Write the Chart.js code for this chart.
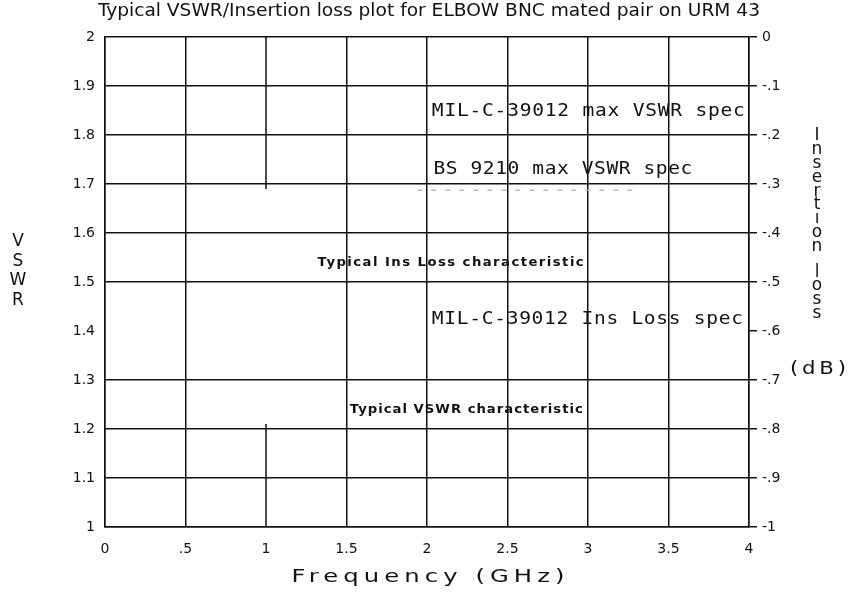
<!DOCTYPE html>
<html>
<head>
    <title>Typical VSWR/Insertion loss plot for ELBOW BNC mated pair on URM 43</title>
    <style>
        body { margin: 0; background: #fff; }
        #chartContainer { width: 864px; height: 596px; position: relative; }
    </style>
    <script src="https://cdn.jsdelivr.net/npm/chart.js"></script>
</head>
<body>

    <div id="chartContainer">
        <canvas id="plot"></canvas>
    </div>

    <script>
        // tick labels as printed on the plotter output
        const freqTickLabels = ['0', '.5', '1', '1.5', '2', '2.5', '3', '3.5', '4'];
        const vswrTickLabels = ['1', '1.1', '1.2', '1.3', '1.4', '1.5', '1.6', '1.7', '1.8', '1.9', '2'];
        const lossTickLabels = ['-1', '-.9', '-.8', '-.7', '-.6', '-.5', '-.4', '-.3', '-.2', '-.1', '0'];

        // faint dashed trace just under the BS 9210 line
        const faintFreq = [1.94, 3.32];
        const faintVswr = [1.687, 1.687];

        // the 1 GHz rule is broken where the labels sit
        const ruleFreq = [1, 1];
        const ruleUpper = [2, 1.69];
        const ruleLower = [1.21, 1];

        // rules with no line drawn on the original
        const missingVswr = [1.4];
        const missingFreq = [1];

        // annotation text: left freq, centre vswr
        const labelText = ['MIL-C-39012 max VSWR spec', 'BS 9210 max VSWR spec', 'Typical Ins Loss characteristic', 'MIL-C-39012 Ins Loss spec', 'Typical VSWR characteristic'];
        const labelFreq = [2.03, 2.04, 1.32, 2.03, 1.52];
        const labelVswr = [1.847, 1.729, 1.539, 1.424, 1.239];

        const ink = '#111';
        const pts = (xs, ys) => xs.map((x, i) => ({ x: x, y: ys[i] }));

        // plotter-style text: widened by sx, then spaced out to cover `width`
        // (sx = 0 means just squeeze/stretch to width with no extra spacing)
        function drawText(ctx, text, x, y, width, font, sx, align) {
            ctx.save();
            ctx.font = font;
            ctx.textBaseline = 'middle';
            ctx.textAlign = 'left';
            ctx.letterSpacing = '0px';
            const w = ctx.measureText(text).width;
            let gap = 0;
            if (!sx) {
                sx = width / w;
            } else if (text.length > 1) {
                gap = Math.max(0, (width / sx - w) / (text.length - 1));
            }
            ctx.letterSpacing = gap.toFixed(2) + 'px';
            const left = align === 'center' ? x - width / 2 : x;
            ctx.translate(left, y);
            ctx.scale(sx, 1);
            ctx.fillStyle = ink;
            ctx.fillText(text, 0, 0);
            ctx.restore();
        }

        const labelWidths = [313, 259, 266, 311, 233];
        const monoFont = '17px "DejaVu Sans Mono", "Liberation Mono", monospace';
        const boldFont = 'bold 12px "DejaVu Sans"';
        const labelFonts = [monoFont, monoFont, boldFont, monoFont, boldFont];
        const labelStretch = [1.15, 1.15, 1.1, 1.15, 1.1];

        const textPlugin = {
            id: 'plotText',
            afterDraw(chart) {
                const ctx = chart.ctx;
                const xs = chart.scales.x, ys = chart.scales.y;
                labelText.forEach((t, i) => {
                    drawText(ctx, t, xs.getPixelForValue(labelFreq[i]), ys.getPixelForValue(labelVswr[i]),
                        labelWidths[i], labelFonts[i], labelStretch[i], 'left');
                });

                drawText(ctx, 'Typical VSWR/Insertion loss plot for ELBOW BNC mated pair on URM 43',
                    429, 12, 662, '17px "DejaVu Sans Condensed", "Liberation Sans Narrow", sans-serif', 0, 'center');
                drawText(ctx, 'Frequency (GHz)', 428, 577, 273, '18px "DejaVu Sans"', 1.35, 'center');

                ctx.save();
                ctx.fillStyle = ink;
                ctx.textAlign = 'center';
                ctx.textBaseline = 'middle';
                ctx.font = '17px "DejaVu Sans"';
                ['V', 'S', 'W', 'R'].forEach((c, i) => ctx.fillText(c, 18, 242 + i * 19.5));
                const side = 'Insertion loss';
                let yy = 136;
                for (const c of side) {
                    if (c === ' ') { yy += 12; continue; }
                    ctx.fillText(c === 'i' ? 'ı' : c, 817, yy);
                    yy += 13.8;
                }
                ctx.restore();
                drawText(ctx, '(dB)', 818, 370, 56, '17px "DejaVu Sans"', 1.25, 'center');
            }
        };

        const tickFont = { family: '"DejaVu Sans"', size: 14 };

        new Chart(document.getElementById('plot'), {
            type: 'scatter',
            data: {
                datasets: [
                    {
                        data: pts(faintFreq, faintVswr),
                        showLine: true,
                        borderColor: '#b8b8b8',
                        borderWidth: 1.5,
                        borderDash: [5, 9],
                        pointRadius: 0
                    },
                    {
                        data: pts(ruleFreq, ruleUpper),
                        showLine: true,
                        borderColor: ink,
                        borderWidth: 1.5,
                        pointRadius: 0
                    },
                    {
                        data: pts(ruleFreq, ruleLower),
                        showLine: true,
                        borderColor: ink,
                        borderWidth: 1.5,
                        pointRadius: 0
                    }
                ]
            },
            options: {
                responsive: true,
                maintainAspectRatio: false,
                animation: false,
                layout: { padding: { top: 37, left: 0, right: 0, bottom: 0 } },
                plugins: {
                    legend: { display: false },
                    title: { display: false },
                    tooltip: { enabled: false }
                },
                scales: {
                    x: {
                        type: 'linear',
                        min: 0,
                        max: 4,
                        ticks: {
                            stepSize: 0.5,
                            color: ink,
                            font: tickFont,
                            padding: 14,
                            maxRotation: 0,
                            callback: (v, i) => freqTickLabels[i]
                        },
                        grid: {
                            drawTicks: false,
                            lineWidth: 1.5,
                            color: ctx => (ctx.tick && missingFreq.includes(ctx.tick.value)) ? 'rgba(0,0,0,0)' : ink
                        },
                        border: { color: ink, width: 1.5 },
                        afterFit: s => { s.height = 69; }
                    },
                    y: {
                        type: 'linear',
                        position: 'left',
                        min: 1,
                        max: 2,
                        ticks: {
                            stepSize: 0.1,
                            color: ink,
                            font: tickFont,
                            padding: 10,
                            callback: (v, i) => vswrTickLabels[i]
                        },
                        grid: {
                            drawTicks: false,
                            lineWidth: 1.5,
                            color: ctx => (ctx.tick && missingVswr.some(m => Math.abs(m - ctx.tick.value) < 1e-6)) ? 'rgba(0,0,0,0)' : ink
                        },
                        border: { color: ink, width: 1.5 },
                        afterFit: s => { s.width = 105; }
                    },
                    y2: {
                        type: 'linear',
                        position: 'right',
                        min: -1,
                        max: 0,
                        ticks: {
                            stepSize: 0.1,
                            color: ink,
                            font: tickFont,
                            padding: 5,
                            callback: (v, i) => lossTickLabels[i]
                        },
                        grid: {
                            drawOnChartArea: false,
                            drawTicks: true,
                            tickLength: 8,
                            lineWidth: 1.5,
                            color: ink
                        },
                        border: { color: ink, width: 1.5 },
                        afterFit: s => { s.width = 115; }
                    }
                }
            },
            plugins: [textPlugin]
        });
    </script>

</body>
</html>
